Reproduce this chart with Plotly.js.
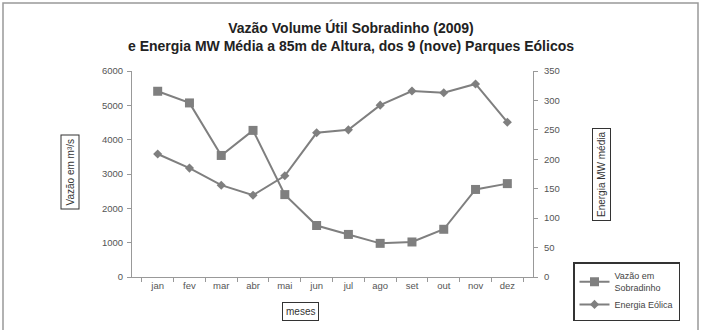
<!DOCTYPE html>
<html><head><meta charset="utf-8">
<script src="https://cdn.plot.ly/plotly-3.0.1.min.js"></script>
<style>html,body{margin:0;padding:0;background:#fff}#c{width:707px;height:330px}</style>
</head><body><div id="c"></div>
<script>
const months = ['jan','fev','mar','abr','mai','jun','jul','ago','set','out','nov','dez'];
const vazao = [5410, 5070, 3540, 4270, 2400, 1500, 1240, 980, 1020, 1390, 2550, 2720];
const energia = [209, 185, 156, 139, 172, 245, 250, 292, 316, 313, 328, 263];
const leftTicks = [0, 1000, 2000, 3000, 4000, 5000, 6000];
const rightTicks = [0, 50, 100, 150, 200, 250, 300, 350];

const grey = '#7f7f7f';
const FF = 'Liberation Sans, Arial, sans-serif';
const tickFont = {family: FF, size: 9.5, color: '#555'};

const traces = [
  {x: months, y: vazao, name: 'Vazão em<br>Sobradinho', type: 'scatter', mode: 'lines+markers',
   line: {color: grey, width: 2}, marker: {symbol: 'square', size: 9, color: grey}, yaxis: 'y'},
  {x: months, y: energia, name: 'Energia Eólica', type: 'scatter', mode: 'lines+markers',
   line: {color: grey, width: 2}, marker: {symbol: 'diamond', size: 7, color: grey}, yaxis: 'y2'}
];

const layout = {
  width: 707, height: 330,
  margin: {l: 132, r: 174, t: 71, b: 53},
  paper_bgcolor: '#fff', plot_bgcolor: '#fff',
  showlegend: true,
  title: {text: 'Vazão Volume Útil Sobradinho (2009)<br>e Energia MW Média a 85m de Altura, dos 9 (nove) Parques Eólicos',
          x: (351 - 132) / 401, xref: 'paper', xanchor: 'center', y: 0.9, yanchor: 'middle',
          font: {family: FF, size: 14, color: '#222', weight: 'bold'}},
  xaxis: {type: 'category', showline: true, linecolor: '#999', linewidth: 1,
          ticks: 'outside', tickson: 'boundaries', ticklen: 4, tickcolor: '#999',
          showgrid: false, zeroline: false, tickfont: tickFont, fixedrange: true},
  yaxis: {range: [0, 6000], tickvals: leftTicks, showline: true, linecolor: '#999', linewidth: 1,
          ticks: 'outside', ticklen: 4, tickcolor: '#999', showgrid: false, zeroline: false,
          tickfont: tickFont, ticklabelstandoff: 2},
  yaxis2: {range: [0, 350], tickvals: rightTicks, overlaying: 'y', side: 'right', showline: true,
           linecolor: '#999', linewidth: 1, ticks: 'outside', ticklen: 4, tickcolor: '#999',
           showgrid: false, zeroline: false, tickfont: tickFont, ticklabelstandoff: 4},
  legend: {x: 573 / 707, xanchor: 'left', y: 1 - 262 / 330, yanchor: 'top', xref: 'container', yref: 'container',
           bordercolor: '#333', borderwidth: 1.5, bgcolor: '#fff',
           font: {family: FF, size: 9, color: '#444'},
           itemwidth: 30, tracegroupgap: 0},
  annotations: [
    {text: 'Vazão em m³/s', xref: 'paper', yref: 'paper', x: (69.5 - 132) / 401, y: (277 - 172) / 206,
     xanchor: 'center', yanchor: 'middle',
     showarrow: false, textangle: -90, bordercolor: '#333', borderwidth: 1, borderpad: 3,
     font: {family: FF, size: 10, color: '#333'}},
    {text: 'Energia MW média', xref: 'paper', yref: 'paper', x: (601 - 132) / 401, y: (277 - 175) / 206,
     xanchor: 'center', yanchor: 'middle',
     showarrow: false, textangle: -90, bordercolor: '#333', borderwidth: 1, borderpad: 3,
     font: {family: FF, size: 10, color: '#333'}},
    {text: 'meses', xref: 'paper', yref: 'paper', x: (300 - 132) / 401, y: (277 - 311) / 206,
     xanchor: 'center', yanchor: 'middle',
     showarrow: false, bordercolor: '#333', borderwidth: 1, borderpad: 3,
     font: {family: FF, size: 10, color: '#333'}}
  ],
  shapes: [
    {type: 'rect', xref: 'paper', yref: 'paper', x0: (3 - 132) / 401, x1: (698 - 132) / 401,
     y0: (277 - 335) / 206, y1: (277 - 3) / 206, line: {color: '#999', width: 1.5}, layer: 'below'}
  ]
};

Plotly.newPlot('c', traces, layout, {displayModeBar: false, staticPlot: true});
</script>
</body></html>
